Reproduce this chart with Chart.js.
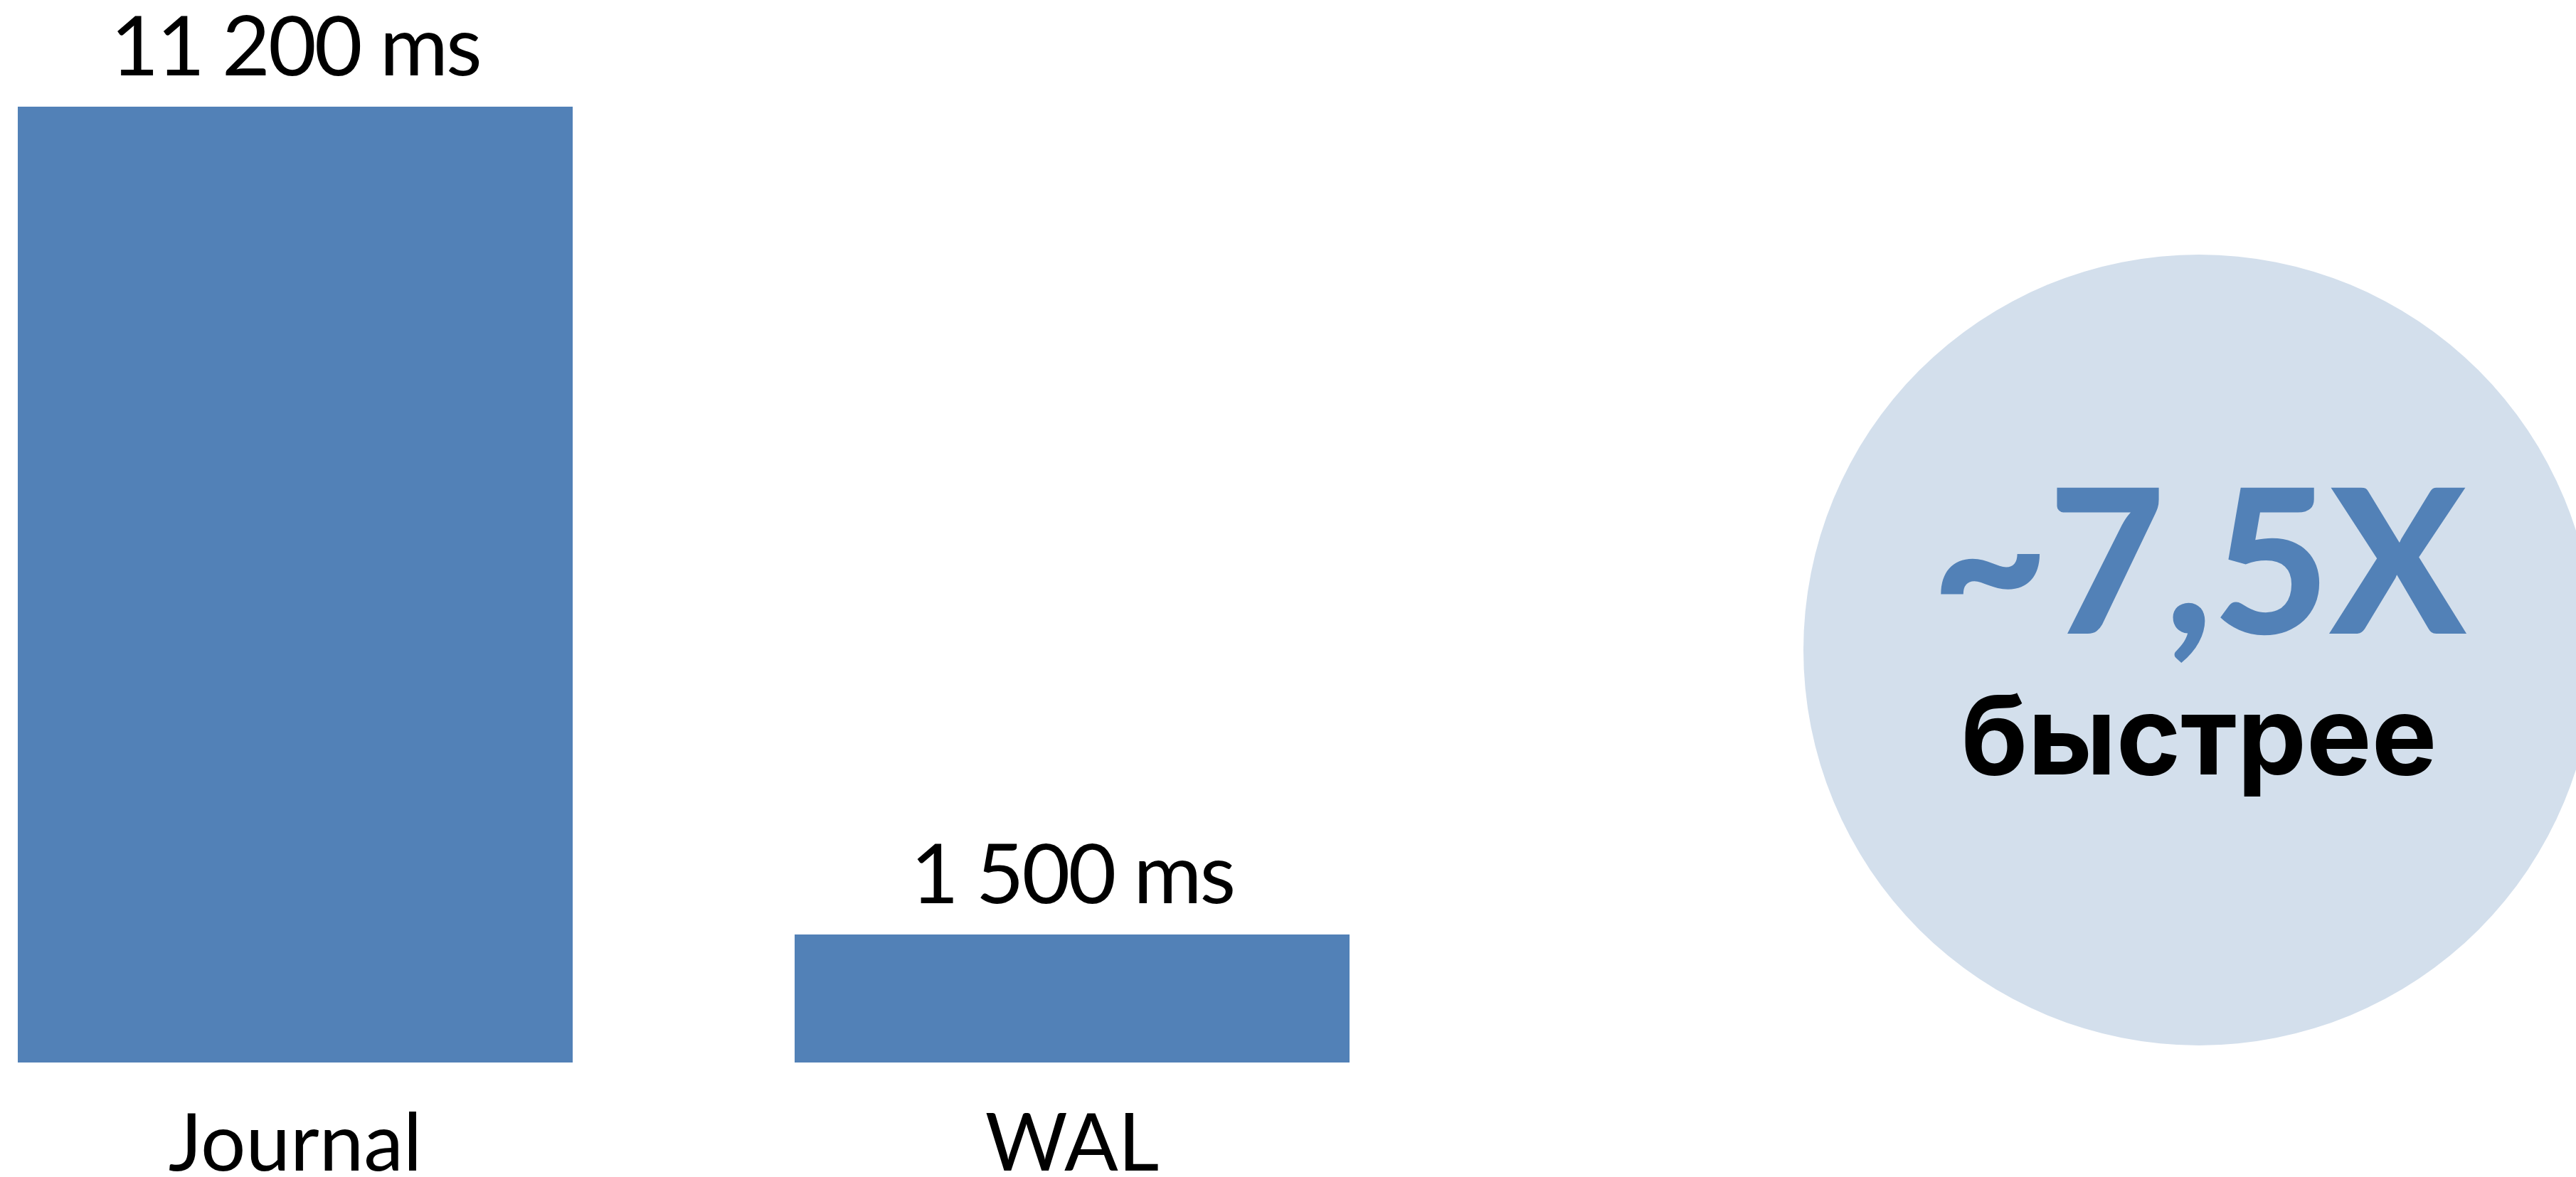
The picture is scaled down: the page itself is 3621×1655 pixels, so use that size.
<!DOCTYPE html>
<html>
<head>
<meta charset="utf-8">
<title>Journal vs WAL</title>
<script src="https://cdn.jsdelivr.net/npm/chart.js@4/dist/chart.umd.min.js"></script>
<style>
  html, body { margin: 0; padding: 0; background: #ffffff; overflow: hidden; }
  canvas { display: block; }
</style>
</head>
<body>
<canvas id="chart" width="3621" height="1655"></canvas>
<script>
// Write time per journaling mode, milliseconds
const categories = ['Journal', 'WAL'];
const durationsMs = [11200, 1500];
const unitLabel = 'ms';
const speedupCaption = 'быстрее';

const BAR_BLUE = '#5281b7';
const BADGE_FILL = '#d3dfec';
const TEXT_BLACK = '#000000';

// "11200" -> "11 200 ms"
function formatMs(v) {
  return String(v).replace(/\B(?=(\d{3})+(?!\d))/g, ' ') + ' ' + unitLabel;
}

// speed-up factor, Russian decimal comma: "~7,5X"
const speedup = durationsMs[0] / durationsMs[1];
const speedupText = '~' + speedup.toFixed(1).replace('.', ',') + 'X';

// value captions above each bar
const valueLabels = {
  id: 'valueLabels',
  afterDatasetsDraw(chart) {
    const ctx = chart.ctx;
    const meta = chart.getDatasetMeta(0);
    ctx.save();
    ctx.font = '400 117px Lato';
    if ('letterSpacing' in ctx) ctx.letterSpacing = '-3px';
    ctx.fillStyle = TEXT_BLACK;
    ctx.textAlign = 'center';
    ctx.textBaseline = 'alphabetic';
    meta.data.forEach((bar, i) => {
      ctx.fillText(formatMs(durationsMs[i]), bar.x, bar.y - 44);
    });
    ctx.restore();
  }
};

// round badge on the right with the speed-up factor
const speedupBadge = {
  id: 'speedupBadge',
  afterDraw(chart) {
    const ctx = chart.ctx;
    const cx = 3091, cy = 914, r = 556;
    ctx.save();
    ctx.beginPath();
    ctx.arc(cx, cy, r, 0, Math.PI * 2);
    ctx.fillStyle = BADGE_FILL;
    ctx.fill();

    ctx.textAlign = 'center';
    ctx.textBaseline = 'alphabetic';
    ctx.fillStyle = BAR_BLUE;
    ctx.font = '900 283px Lato';
    ctx.fillText(speedupText, cx, cy - 23);

    ctx.fillStyle = TEXT_BLACK;
    ctx.font = '700 154px Inter';
    ctx.fillText(speedupCaption, cx, cy + 175);
    ctx.restore();
  }
};

new Chart(document.getElementById('chart'), {
  type: 'bar',
  data: {
    labels: categories,
    datasets: [{
      data: durationsMs,
      backgroundColor: BAR_BLUE,
      borderWidth: 0,
      categoryPercentage: 1,
      barPercentage: 0.7143,
      clip: false
    }]
  },
  options: {
    responsive: false,
    animation: false,
    devicePixelRatio: 1,
    layout: { padding: { left: 415, right: 2114, top: 54, bottom: 0 } },
    plugins: {
      legend: { display: false },
      tooltip: { enabled: false },
      title: { display: false }
    },
    scales: {
      x: {
        offset: false,
        grid: { display: false, drawTicks: false },
        border: { display: false },
        ticks: {
          color: TEXT_BLACK,
          font: { family: 'Lato', size: 112, weight: '400' },
          padding: 49,
          maxRotation: 0,
          autoSkip: false
        },
        afterFit(scale) { scale.height = 161; }
      },
      y: {
        display: false,
        min: 0,
        max: 12000
      }
    }
  },
  plugins: [speedupBadge, valueLabels]
});
</script>
</body>
</html>
